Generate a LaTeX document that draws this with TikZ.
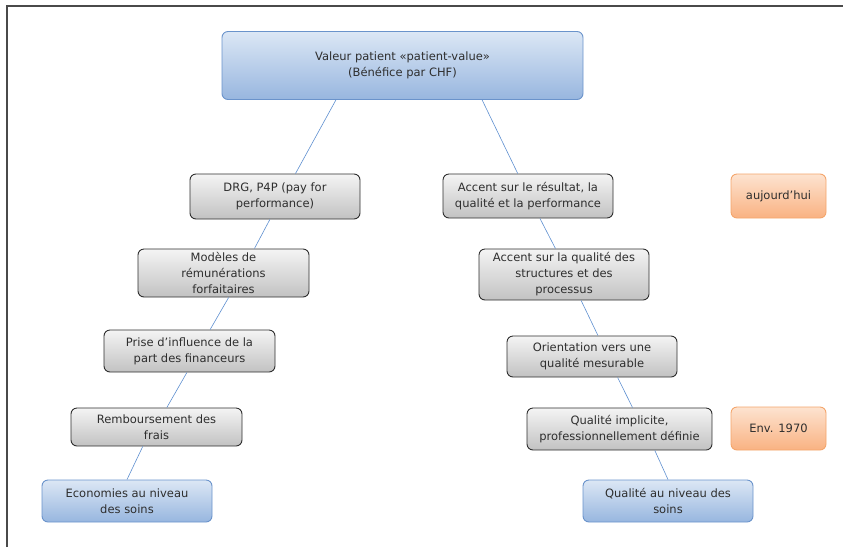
\documentclass[tikz,border=0pt]{standalone}
\usepackage{fontspec}
\setmainfont{DejaVu Sans}
\usetikzlibrary{calc}
\definecolor{txt}{HTML}{2E2E2E}
\definecolor{grayborder}{HTML}{2E2E2E}
\definecolor{graytop}{HTML}{F4F4F4}
\definecolor{graybot}{HTML}{C2C2C2}
\definecolor{bluetop}{HTML}{DCE7F5}
\definecolor{bluebot}{HTML}{97B6DF}
\definecolor{blueborder}{HTML}{6A93CB}
\definecolor{orangetop}{HTML}{FDE3D0}
\definecolor{orangebot}{HTML}{F9B282}
\definecolor{orangeborder}{HTML}{F4A56B}
\definecolor{linkcol}{HTML}{5E8FD0}
\definecolor{framecol}{HTML}{4A4A4A}
\tikzset{
  box/.style={rounded corners=6pt, line width=0.9pt, inner sep=0pt, align=center,
    text=txt, font=\fontsize{11.5}{16}\selectfont},
  graybox/.style={box, draw=grayborder, top color=graytop, bottom color=graybot},
  bluebox/.style={box, draw=blueborder, top color=bluetop, bottom color=bluebot},
  orangebox/.style={box, draw=orangeborder, top color=orangetop, bottom color=orangebot},
  link/.style={draw=linkcol, line width=0.6pt},
  frameline/.style={draw=framecol, line width=1.6pt}
}
\begin{document}
\begin{tikzpicture}[x=1pt,y=-1pt]
\useasboundingbox (0,0) rectangle (843,547);
\draw[frameline] (7,547) -- (7,6) -- (843,6);

\node[bluebox, minimum width=361pt, minimum height=68pt] (top) at (402.5,65.5) {Valeur patient «patient-value»\\(Bénéfice par CHF)};

\node[graybox, minimum width=170pt, minimum height=45pt] (drg) at (275,196.5) {DRG, P4P (pay for\\performance)};
\node[graybox, minimum width=171pt, minimum height=48pt] (mod) at (223.5,273) {Modèles de\\rémunérations\\forfaitaires};
\node[graybox, minimum width=171pt, minimum height=42pt] (prise) at (189.5,351) {Prise d’influence de la\\part des financeurs};
\node[graybox, minimum width=171pt, minimum height=38pt] (remb) at (156.5,427) {Remboursement des\\frais};
\node[bluebox, minimum width=170pt, minimum height=42pt] (eco) at (127,501) {Economies au niveau\\des soins};

\node[graybox, minimum width=170pt, minimum height=44pt] (acc1) at (528,196) {Accent sur le résultat, la\\qualité et la performance};
\node[graybox, minimum width=170pt, minimum height=51pt] (acc2) at (564,274.5) {Accent sur la qualité des\\structures et des\\processus};
\node[graybox, minimum width=170pt, minimum height=41pt] (orient) at (592,356.5) {Orientation vers une\\qualité mesurable};
\node[graybox, minimum width=185pt, minimum height=42pt] (qimp) at (619.5,429) {Qualité implicite,\\professionnellement définie};
\node[bluebox, minimum width=170pt, minimum height=42pt] (qniv) at (668,501) {Qualité au niveau des\\soins};

\node[orangebox, minimum width=95pt, minimum height=44pt] (auj) at (778.5,196) {aujourd’hui};
\node[orangebox, minimum width=95pt, minimum height=43pt] (env) at (778.5,428.5) {Env. 1970};

\draw[link] ($(top.south west)!0.316!(top.south east)$) -- ($(drg.north west)!0.62!(drg.north east)$);
\draw[link] ($(top.south west)!0.72!(top.south east)$) -- ($(acc1.north west)!0.44!(acc1.north east)$);
\draw[link] ($(drg.south west)!0.47!(drg.south east)$) -- ($(mod.north west)!0.68!(mod.north east)$);
\draw[link] ($(mod.south west)!0.53!(mod.south east)$) -- ($(prise.north west)!0.62!(prise.north east)$);
\draw[link] ($(prise.south west)!0.485!(prise.south east)$) -- ($(remb.north west)!0.56!(remb.north east)$);
\draw[link] ($(remb.south west)!0.42!(remb.south east)$) -- ($(eco.north west)!0.5!(eco.north east)$);
\draw[link] ($(acc1.south west)!0.57!(acc1.south east)$) -- ($(acc2.north west)!0.45!(acc2.north east)$);
\draw[link] ($(acc2.south west)!0.6!(acc2.south east)$) -- ($(orient.north west)!0.535!(orient.north east)$);
\draw[link] ($(orient.south west)!0.65!(orient.south east)$) -- ($(qimp.north west)!0.57!(qimp.north east)$);
\draw[link] ($(qimp.south west)!0.69!(qimp.south east)$) -- ($(qniv.north west)!0.5!(qniv.north east)$);
\end{tikzpicture}
\end{document}
